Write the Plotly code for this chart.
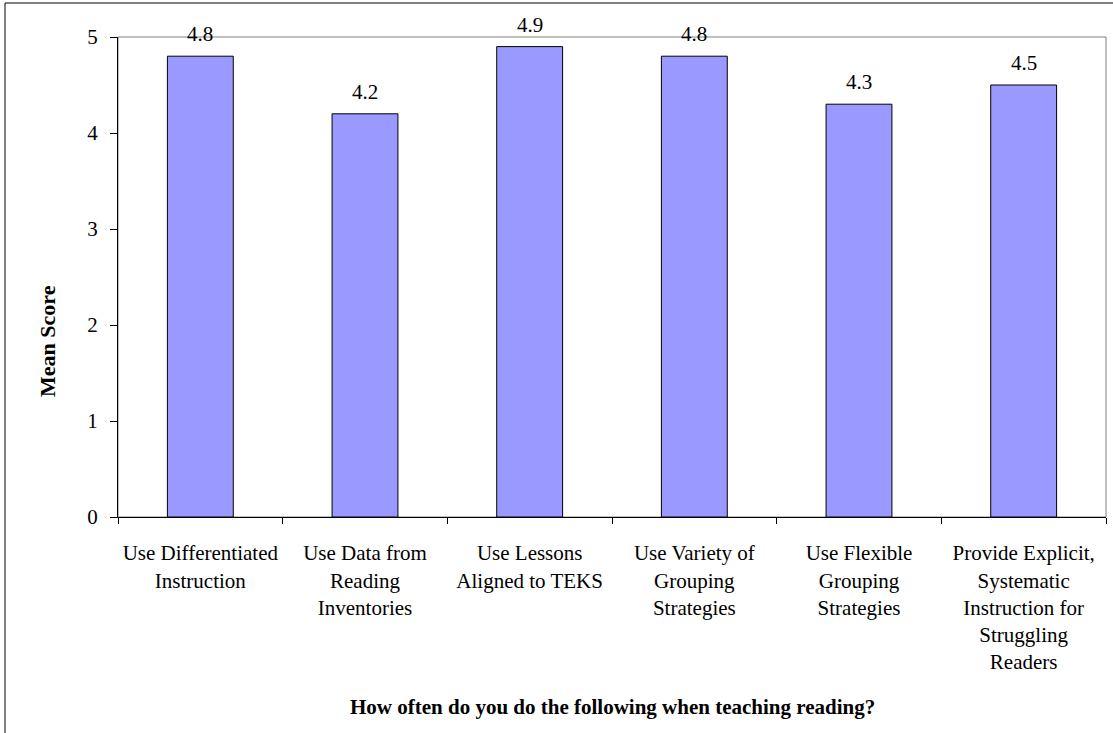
import plotly.graph_objects as go

categories = [
    "Use Differentiated<br>Instruction",
    "Use Data from<br>Reading<br>Inventories",
    "Use Lessons<br>Aligned to TEKS",
    "Use Variety of<br>Grouping<br>Strategies",
    "Use Flexible<br>Grouping<br>Strategies",
    "Provide Explicit,<br>Systematic<br>Instruction for<br>Struggling<br>Readers",
]
values = [4.8, 4.2, 4.9, 4.8, 4.3, 4.5]
value_labels = ["4.8", "4.2", "4.9", "4.8", "4.3", "4.5"]
y_ticks = [0, 1, 2, 3, 4, 5]
x_title = "How often do you do the following when teaching reading?"
y_title = "Mean Score"

W, H = 1113, 733
L, R, T, B = 118, 7, 37, 216
pw, ph = W - L - R, H - T - B

def px2x(px):
    return (px - L) / pw

def py2y(py):
    return (H - B - py) / ph

FONT = "Liberation Serif"

fig = go.Figure(go.Bar(
    x=categories,
    y=values,
    marker=dict(color="#9999FF", line=dict(color="black", width=1)),
    width=0.4,
    cliponaxis=False,
    hoverinfo="skip",
))

annotations = [
    dict(x=i, y=v, xref="x", yref="y", text=t, showarrow=False,
         yanchor="bottom", yshift=8, font=dict(family=FONT, size=21, color="black"))
    for i, (v, t) in enumerate(zip(values, value_labels))
]
annotations.append(dict(
    x=0.5, y=py2y(707), xref="paper", yref="paper", text="<b>" + x_title + "</b>",
    showarrow=False, xanchor="center", yanchor="middle",
    font=dict(family=FONT, size=21, color="black")))
annotations.append(dict(
    x=px2x(47), y=py2y(341), xref="paper", yref="paper", text="<b>" + y_title + "</b>",
    showarrow=False, xanchor="center", yanchor="middle", textangle=-90,
    font=dict(family=FONT, size=22, color="black")))

fig.update_layout(
    width=W, height=H,
    margin=dict(l=L, r=R, t=T, b=B, pad=0, autoexpand=False),
    paper_bgcolor="white", plot_bgcolor="white",
    showlegend=False,
    font=dict(family=FONT, size=21, color="black"),
    annotations=annotations,
    xaxis=dict(
        type="category",
        tickson="boundaries",
        tickangle=0,
        automargin=False,
        showline=True, linecolor="black", linewidth=1,
        ticks="outside", ticklen=6, tickcolor="black",
        showgrid=False, zeroline=False,
        tickfont=dict(family=FONT, size=21),
        ticklabelstandoff=17,
    ),
    yaxis=dict(
        range=[0, 5],
        tickvals=y_ticks,
        automargin=False,
        showline=True, linecolor="black", linewidth=1,
        ticks="outside", ticklen=7, tickcolor="black",
        showgrid=False, zeroline=False,
        tickfont=dict(family=FONT, size=21),
        ticklabelstandoff=8,
    ),
    shapes=[
        dict(type="rect", xref="paper", yref="paper", x0=0, x1=1, y0=0, y1=1,
             line=dict(color="#808080", width=1), layer="below"),
        dict(type="rect", xref="paper", yref="paper",
             x0=px2x(5), x1=px2x(1116), y0=py2y(740), y1=py2y(3),
             line=dict(color="black", width=1), layer="below"),
    ],
)

fig.write_html("out.html", config={"displayModeBar": False},
               post_script="document.body.style.margin='0';document.body.style.overflow='hidden';")
